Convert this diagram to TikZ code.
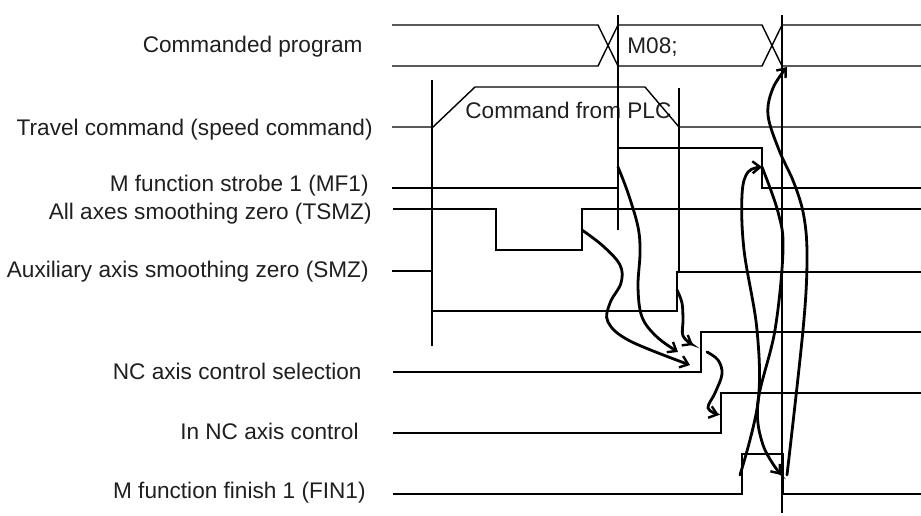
\documentclass[tikz,border=0pt]{standalone}
\usepackage{fontspec}
\setmainfont{Liberation Sans}
\usetikzlibrary{arrows.meta}
\begin{document}
\begin{tikzpicture}[x=0.5pt,y=-0.5pt,
  sig/.style={line width=0.7pt, black},
  flow/.style={line width=1.4pt, black, line cap=round, -{Straight Barb[length=3.8pt,width=6pt,line width=1.2pt]}},
  lbl/.style={anchor=base east, inner sep=0pt, text=black!88, font=\fontsize{11.3pt}{13pt}\selectfont},
  wlbl/.style={anchor=base west, inner sep=0pt, text=black!88, font=\fontsize{11.3pt}{13pt}\selectfont}]
\useasboundingbox (0,0) rectangle (921,515);
% labels
\node[lbl] (lprog) at (363,52.7) {Commanded program};
\node[lbl] (ltrav) at (373,135) {Travel command (speed command)};
\node[lbl] (lmf) at (369,191.7) {M function strobe 1 (MF1)};
\node[lbl] (ltsmz) at (372,219) {All axes smoothing zero (TSMZ)};
\node[lbl] (lsmz) at (369,277.5) {Auxiliary axis smoothing zero (SMZ)};
\node[lbl] (lsel) at (362,379.5) {NC axis control selection};
\node[lbl] (lin) at (359,439.5) {In NC axis control};
\node[lbl] (lfin) at (366,498.5) {M function finish 1 (FIN1)};
\node[wlbl] (plc) at (465,118.3) {Command from PLC};
\node[wlbl] (m08) at (627,53.3) {M08;};
% reference verticals
\draw[sig] (432,80) -- (432,346);
\draw[sig] (618,15) -- (618,230);
\draw[sig] (679,88) -- (679,272);
\draw[sig] (782,15) -- (782,513);
% signals
\draw[sig] (392,25) -- (598,25) -- (618,66) -- (762,66) -- (782,25) -- (921,25);
\draw[sig] (392,66) -- (598,66) -- (618,25) -- (762,25) -- (782,66) -- (921,66);
\draw[sig] (392,127) -- (433,127) -- (475,87) -- (645,87) -- (679,127) -- (921,127);
\draw[sig] (392,188) -- (618,188) -- (618,148) -- (762,148) -- (762,188) -- (921,188);
\draw[sig] (393,209) -- (496,209) -- (496,250) -- (582,250) -- (582,209) -- (921,209);
\draw[sig] (392,271) -- (432,271) -- (432,311) -- (677,311) -- (677,272) -- (921,272);
\draw[sig] (393,372) -- (701,372) -- (701,332) -- (921,332);
\draw[sig] (393,433) -- (721,433) -- (721,393) -- (921,393);
\draw[sig] (393,494) -- (742,494) -- (742,454) -- (783,454) -- (783,494) -- (921,494);
% connector end points
\coordinate (mfrise) at (618,167);
\coordinate (tsrise) at (582,230);
\coordinate (smrise) at (677,290);
\coordinate (selrise) at (707,352);
\coordinate (selA) at (678,352);
\coordinate (selB) at (690,365);
\coordinate (selC) at (693,345);
\coordinate (inrise) at (719,415);
\coordinate (finrise) at (740,475);
\coordinate (mffall) at (762,167);
\coordinate (finfall) at (781,475);
\coordinate (finfallB) at (787,475);
\coordinate (prog) at (787,67);
% connectors
\draw[flow] plot[smooth, tension=0.6] coordinates {(mfrise) (628,193) (638,227) (640,253) (638,287) (642,317) (657,337) (selA)};
\draw[flow] plot[smooth, tension=0.6] coordinates {(tsrise) (603,246) (620,265) (621,283) (610,303) (608,322) (630,341) (selB)};
\draw[flow] plot[smooth, tension=0.6] coordinates {(smrise) (682,303) (683,320) (683,336) (selC)};
\draw[flow] plot[smooth, tension=0.6] coordinates {(selrise) (718,360) (722,374) (715,393) (708,408) (inrise)};
\draw[flow] plot[smooth, tension=0.6] coordinates {(finrise) (758,402) (757,330) (744,250) (742,195) (748,172) (mffall)};
\draw[flow] plot[smooth, tension=0.6] coordinates {(mffall) (778,212) (783,250) (775,330) (758,402) (763,445) (finfall)};
\draw[flow] plot[smooth, tension=0.6] coordinates {(finfallB) (803,330) (807,260) (804,217) (794,183) (779,150) (768,115) (773,88) (prog)};
\end{tikzpicture}
\end{document}
